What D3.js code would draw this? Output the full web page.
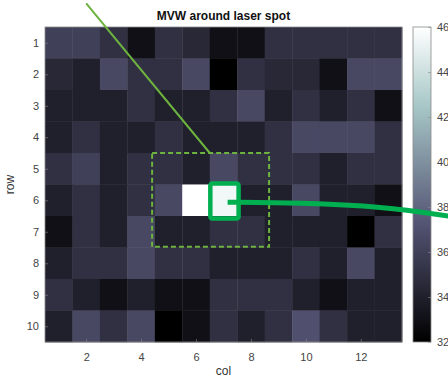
<!DOCTYPE html>
<html>
<head>
<meta charset="utf-8">
<script src="https://cdn.jsdelivr.net/npm/d3@7"></script>
<style>
  html, body { margin: 0; padding: 0; background: #fff; overflow: hidden; }
  svg { display: block; font-family: "Liberation Sans", Arial, sans-serif; }
</style>
</head>
<body>
<svg id="chart" width="448" height="378"></svg>
<script>
// MVW values per row (row 1..10), columns 1..13
const rows = d3.range(1, 11);
const cols = d3.range(1, 14);
const mvw = [
  [36, 36, 35, 33, 35, 34.5, 33, 33, 35, 35, 35, 35, 35],
  [34.5, 34, 36.5, 35, 35, 36.5, 32, 35, 34.5, 34.5, 33, 36.5, 36.5],
  [34, 34, 34, 35, 34, 34, 35, 36.5, 34, 35, 34, 35, 33],
  [34, 35, 34, 34, 35, 34, 34, 34, 35, 36.5, 36.5, 36.5, 35],
  [35, 36, 34, 35, 35, 34, 36.5, 35, 35, 35, 34, 35, 35],
  [34, 35, 34, 35, 36.5, 46, 45.5, 34, 34, 36.5, 34, 34, 33],
  [33, 35, 34, 36.5, 34, 34, 35, 35, 34, 34, 34, 32, 35],
  [34, 35, 35, 36.5, 35, 35, 34, 34, 34, 35, 34, 36.5, 34],
  [35, 34, 33, 34, 33, 33, 35, 35, 35, 34, 33, 34, 34],
  [34, 36.5, 35, 36.5, 32, 33, 35, 34, 35, 37, 35, 34, 34]
];
const xTicks = [2, 4, 6, 8, 10, 12];
const cbarTicks = [32, 34, 36, 38, 40, 42, 44, 46];
const cRange = [32, 46];

// annotation shapes, in data units (col, row)
const zoomBox = { c0: 4.4, c1: 8.66, r0: 4.5, r1: 7.48 };
const spotBox = { c0: 6.52, c1: 7.55, r0: 5.47, r1: 6.58 };
const pointer = [[2.0, -0.25], [6.5, 4.5]];
const callout = [[7.15, 6.06], [9.8, 6.08], [12.8, 6.2], [15.2, 6.5]];

// MATLAB "bone" colormap
function bone(t) {
  t = Math.max(0, Math.min(1, t));
  const hr = Math.min(1, t / 0.375);
  const hg = Math.max(0, Math.min(1, (t - 0.375) / 0.375));
  const hb = Math.max(0, Math.min(1, (t - 0.75) / 0.25));
  const r = (7 * t + hb) / 8, g = (7 * t + hg) / 8, b = (7 * t + hr) / 8;
  return d3.rgb(r * 255, g * 255, b * 255).toString();
}

const svg = d3.select("#chart");
const plot = { left: 45, right: 402, top: 27, bottom: 342 };

const x = d3.scaleLinear().domain([0.5, 13.5]).range([plot.left, plot.right]);
const y = d3.scaleLinear().domain([0.5, 10.5]).range([plot.top, plot.bottom]);
const cnorm = d3.scaleLinear().domain(cRange).range([0, 1]).clamp(true);
const color = v => bone(cnorm(v));

// cells
const cells = [];
mvw.forEach((row, i) => row.forEach((v, j) => cells.push({ r: rows[i], c: cols[j], v })));
svg.append("g")
  .selectAll("rect")
  .data(cells)
  .join("rect")
  .attr("x", d => x(d.c - 0.5))
  .attr("y", d => y(d.r - 0.5))
  .attr("width", x(1.5) - x(0.5) + 0.4)
  .attr("height", y(1.5) - y(0.5) + 0.4)
  .attr("fill", d => color(d.v));

// axes frame + ticks
const axisCol = "#8a8a8a";
svg.append("rect")
  .attr("x", plot.left).attr("y", plot.top)
  .attr("width", plot.right - plot.left).attr("height", plot.bottom - plot.top)
  .attr("fill", "none").attr("stroke", axisCol).attr("stroke-width", 0.8);

const xAxis = svg.append("g").attr("transform", `translate(0,${plot.bottom})`)
  .call(d3.axisBottom(x).tickValues(xTicks).tickSize(-3).tickPadding(11));
const yAxis = svg.append("g").attr("transform", `translate(${plot.left},0)`)
  .call(d3.axisLeft(y).tickValues(rows).tickSize(-3).tickPadding(6));
[xAxis, yAxis].forEach(a => {
  a.select(".domain").remove();
  a.selectAll("line").attr("stroke", axisCol).attr("stroke-width", 0.6);
  a.selectAll("text").attr("fill", "#444").attr("font-size", 11);
});

svg.append("text")
  .attr("x", (plot.left + plot.right) / 2).attr("y", 20)
  .attr("text-anchor", "middle").attr("font-size", 12).attr("font-weight", "bold")
  .attr("fill", "#111")
  .text("MVW around laser spot");
svg.append("text")
  .attr("transform", `translate(14,${(plot.top + plot.bottom) / 2}) rotate(-90)`)
  .attr("text-anchor", "middle").attr("font-size", 12).attr("fill", "#333")
  .text("row");
svg.append("text")
  .attr("x", (plot.left + plot.right) / 2).attr("y", 375)
  .attr("text-anchor", "middle").attr("font-size", 12).attr("fill", "#333")
  .text("col");

// colorbar
const cb = { x: 413, w: 18 };
const cy = d3.scaleLinear().domain(cRange).range([plot.bottom, plot.top]);
const grad = svg.append("defs").append("linearGradient")
  .attr("id", "cbar").attr("x1", 0).attr("y1", 1).attr("x2", 0).attr("y2", 0);
grad.selectAll("stop")
  .data(d3.range(0, 1.0001, 0.02))
  .join("stop")
  .attr("offset", d => d)
  .attr("stop-color", d => bone(d));
svg.append("rect")
  .attr("x", cb.x).attr("y", plot.top)
  .attr("width", cb.w).attr("height", plot.bottom - plot.top)
  .attr("fill", "url(#cbar)").attr("stroke", axisCol).attr("stroke-width", 0.8);
const cAxis = svg.append("g").attr("transform", `translate(${cb.x + cb.w},0)`)
  .call(d3.axisRight(cy).tickValues(cbarTicks).tickSize(-3).tickPadding(6));
cAxis.select(".domain").remove();
cAxis.selectAll("line").attr("stroke", axisCol).attr("stroke-width", 0.6);
cAxis.selectAll("text").attr("fill", "#444").attr("font-size", 11);

// annotations
const lightGreen = "#6db33f";
const green = "#00b050";
svg.append("line")
  .attr("x1", x(pointer[0][0])).attr("y1", y(pointer[0][1]))
  .attr("x2", x(pointer[1][0])).attr("y2", y(pointer[1][1]))
  .attr("stroke", lightGreen).attr("stroke-width", 2);
svg.append("rect")
  .attr("x", x(zoomBox.c0)).attr("y", y(zoomBox.r0))
  .attr("width", x(zoomBox.c1) - x(zoomBox.c0)).attr("height", y(zoomBox.r1) - y(zoomBox.r0))
  .attr("fill", "none").attr("stroke", lightGreen).attr("stroke-width", 2)
  .attr("stroke-dasharray", "5,3");
svg.append("rect")
  .attr("x", x(spotBox.c0)).attr("y", y(spotBox.r0))
  .attr("width", x(spotBox.c1) - x(spotBox.c0)).attr("height", y(spotBox.r1) - y(spotBox.r0))
  .attr("rx", 2).attr("fill", "none").attr("stroke", green).attr("stroke-width", 4.5);
svg.append("path")
  .attr("d", d3.line().x(d => x(d[0])).y(d => y(d[1])).curve(d3.curveBasis)(callout))
  .attr("fill", "none").attr("stroke", green).attr("stroke-width", 5);
</script>
</body>
</html>
